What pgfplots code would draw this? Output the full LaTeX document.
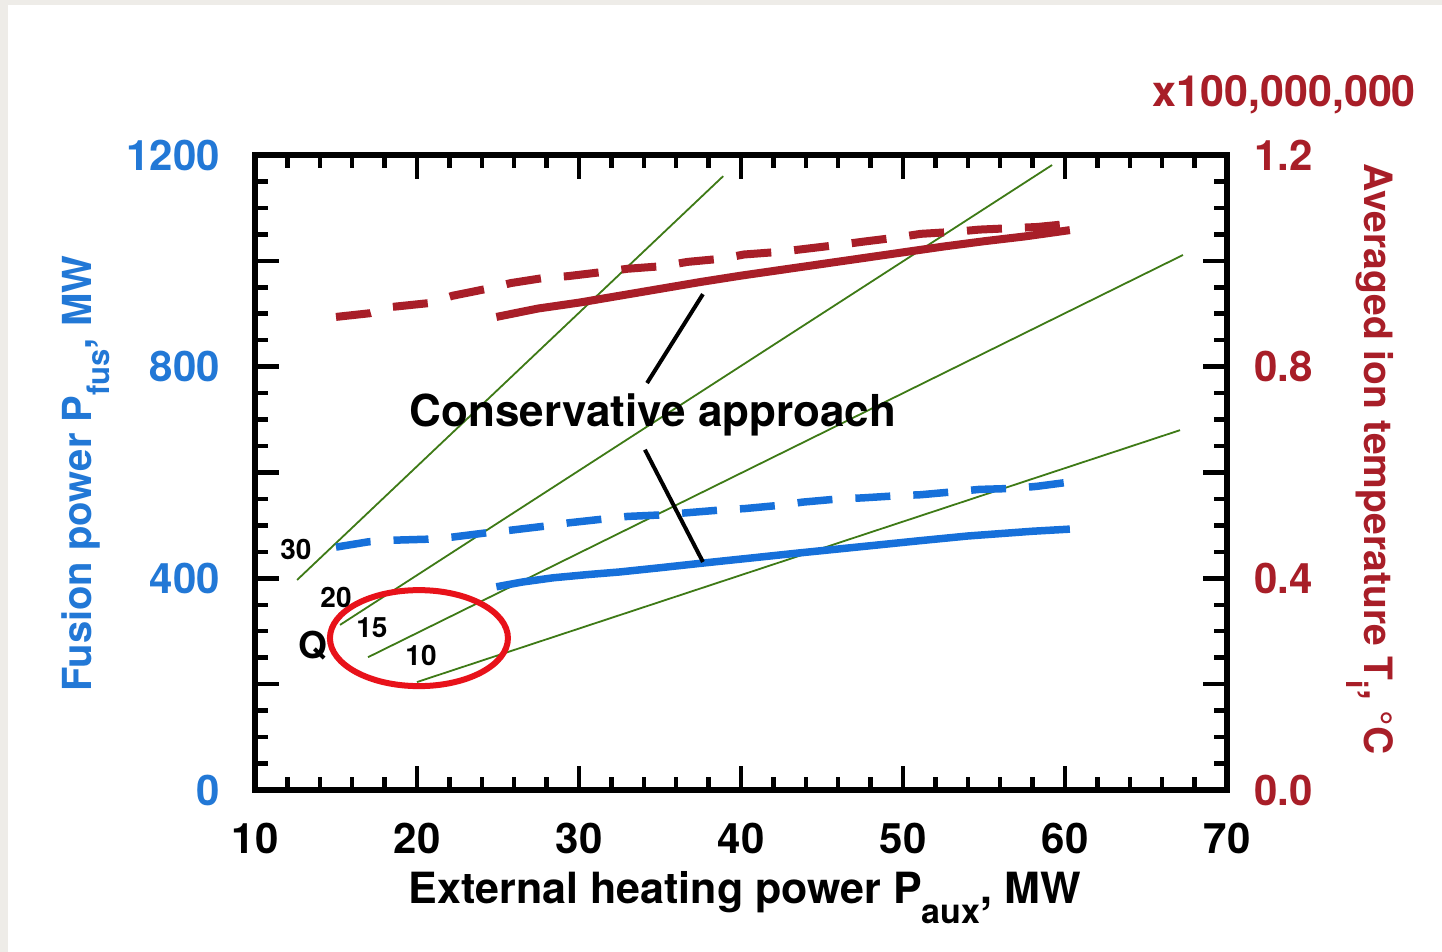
\documentclass[border=0pt]{standalone}
\usepackage{fontspec}
\setmainfont{TeX Gyre Heros}
\usepackage{pgfplots}
\pgfplotsset{compat=1.18}

\definecolor{fusblue}{RGB}{22,112,218}
\definecolor{labblue}{RGB}{34,120,214}
\definecolor{tired}{RGB}{168,30,40}
\definecolor{qgreen}{RGB}{62,122,22}
\definecolor{ringred}{RGB}{232,18,26}
\definecolor{framegray}{RGB}{238,236,232}

\newcommand{\fs}[1]{\fontsize{#1}{#1}\selectfont\bfseries}

% fusion power (MW) versus auxiliary heating power (MW)
\pgfplotstableread{
paux pfus
24.9 384
26.5 393
28.4 401
30.5 407
32.5 412
35.0 420
37.7 429
40.5 438
43.6 448
47.8 461
51.0 471
54.0 480
58.0 489
60.3 493
}\pfusCons
\pgfplotstableread{
paux pfus
15.0 459
17.0 469
18.5 472
20.7 474
22.2 478
24.3 486
25.8 491
28.0 499
29.4 505
31.5 512
33.0 517
35.2 520
36.7 524
38.7 529
40.3 532
42.4 538
43.8 544
46.0 550
47.5 552
49.6 556
51.1 558
53.3 564
54.7 568
56.9 570
58.3 574
60.3 582
}\pfusOpt
% averaged ion temperature (units of 1e8 C)
\pgfplotstableread{
paux ti
24.9 0.894
27.5 0.910
30.0 0.921
32.5 0.934
35.0 0.947
37.5 0.960
40.0 0.972
42.5 0.983
45.0 0.994
47.5 1.005
50.0 1.016
52.5 1.027
55.0 1.037
57.5 1.046
60.3 1.058
}\tiCons
\pgfplotstableread{
paux ti
15.0 0.894
17.1 0.901
18.5 0.913
20.7 0.920
22.2 0.934
24.3 0.947
25.8 0.958
27.9 0.968
29.3 0.971
31.5 0.979
33.0 0.985
35.2 0.990
36.7 0.998
38.8 1.004
40.2 1.012
42.4 1.017
43.8 1.022
46.0 1.030
47.5 1.036
49.6 1.044
51.1 1.051
53.3 1.055
54.7 1.059
56.9 1.062
58.3 1.064
60.3 1.070
}\tiOpt

\begin{document}
\begin{tikzpicture}[x=1pt,y=1pt]
\fill[framegray] (0,0) rectangle (1442,952);
\fill[white] (8,0) rectangle (1442,947);

\begin{axis}[
  at={(255pt,162pt)}, anchor=south west,
  scale only axis, width=972pt, height=635pt,
  xmin=10, xmax=70, ymin=0, ymax=1200,
  xtick={10,20,...,70}, xticklabels={10,20,30,40,50,60,70},
  minor x tick num=4,
  ytick={0,200,...,1200}, yticklabels={0,,400,,800,,1200},
  minor y tick num=3,
  tick align=inside,
  major tick length=24pt, minor tick length=13pt,
  tick style={black, line width=4.5pt},
  axis line style={black, line width=6pt},
  xticklabel style={font=\fs{42}, anchor=north, inner sep=0pt, yshift=-33pt},
  yticklabel style={font=\fs{42}, text=labblue, anchor=east, inner sep=0pt, xshift=-35pt},
  xlabel={External heating power P\raisebox{-0.48em}{\fs{34}aux}, MW},
  xlabel style={at={(axis description cs:0.504,-0.178)}, anchor=base, font=\fs{43}},
  ylabel={Fusion power P\raisebox{-0.45em}{\fs{31}fus}, MW},
  ylabel style={at={(axis description cs:-0.168,0.498)}, anchor=base, text=labblue, font=\fs{40}},
]
% lines of constant gain Q
\addplot[qgreen, line width=1.8pt] coordinates {(12.6,397) (38.9,1160)};
\addplot[qgreen, line width=1.8pt] coordinates {(15.25,312) (59.2,1181)};
\addplot[qgreen, line width=1.8pt] coordinates {(16.98,251) (67.28,1011)};
\addplot[qgreen, line width=1.8pt] coordinates {(20.0,204) (67.1,680)};

\addplot[fusblue, line width=7.5pt, line join=round] table[x=paux, y=pfus] {\pfusCons};
\addplot[fusblue, line width=7.5pt, dash pattern=on 35pt off 23pt] table[x=paux, y=pfus] {\pfusOpt};

\draw[ringred, line width=6pt] (axis cs:20.12,287) ellipse [x radius=89pt, y radius=48pt];

\node[font=\fs{28}] at (axis cs:12.53,455) {30};
\node[font=\fs{28}] at (axis cs:15.0,363) {20};
\node[font=\fs{28}] at (axis cs:17.22,306) {15};
\node[font=\fs{28}] at (axis cs:20.25,255) {10};
\node[font=\fs{37}] at (axis cs:13.58,272) {Q};

\node[font=\fs{44}, anchor=base] at (axis cs:34.57,686) {Conservative approach};
\draw[black, line width=4pt] (axis cs:34.2,769) -- (axis cs:37.65,937);
\draw[black, line width=4pt] (axis cs:34.07,643) -- (axis cs:37.65,431);
\end{axis}

\begin{axis}[
  at={(255pt,162pt)}, anchor=south west,
  scale only axis, width=972pt, height=635pt,
  xmin=10, xmax=70, ymin=0, ymax=1.2,
  clip mode=individual,
  axis x line=none, axis y line*=right,
  y axis line style={draw=none},
  ytick={0,0.4,0.8,1.2}, yticklabels={0.0,0.4,0.8,1.2},
  ytick style={draw=none},
  yticklabel style={font=\fs{42}, text=tired, anchor=west, inner sep=0pt, xshift=27pt},
  ylabel={Averaged ion temperature T\raisebox{-0.45em}{\fs{30}i}, °C},
  ylabel style={at={(axis description cs:1.141,0.521)}, anchor=base, rotate=180, text=tired, font=\fs{39}},
]
\addplot[tired, line width=8pt, line join=round] table[x=paux, y=ti] {\tiCons};
\addplot[tired, line width=8pt, dash pattern=on 35pt off 23pt] table[x=paux, y=ti] {\tiOpt};
\node[font=\fs{43}, text=tired, anchor=base] at (axis description cs:1.059,1.077) {x100,000,000};
\end{axis}
\end{tikzpicture}
\end{document}
